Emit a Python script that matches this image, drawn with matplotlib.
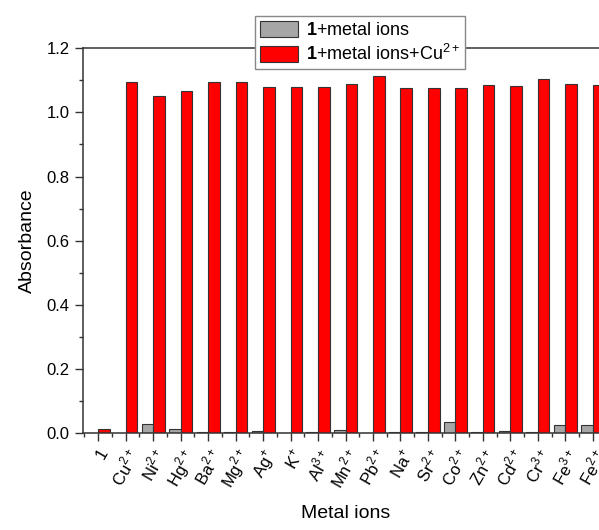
import numpy as np
import matplotlib
matplotlib.use('Agg')
import matplotlib.pyplot as plt
from matplotlib.ticker import MultipleLocator

plt.rcParams['font.family'] = 'Liberation Sans'
plt.rcParams['mathtext.fontset'] = 'custom'
plt.rcParams['mathtext.rm'] = 'Liberation Sans'
plt.rcParams['mathtext.bf'] = 'Liberation Sans:bold'

# metal ions
ions = ['1', r'Cu$^{2+}$', r'Ni$^{2+}$', r'Hg$^{2+}$', r'Ba$^{2+}$', r'Mg$^{2+}$', r'Ag$^{+}$',
        r'K$^{+}$', r'Al$^{3+}$', r'Mn$^{2+}$', r'Pb$^{2+}$', r'Na$^{+}$', r'Sr$^{2+}$',
        r'Co$^{2+}$', r'Zn$^{2+}$', r'Cd$^{2+}$', r'Cr$^{3+}$', r'Fe$^{3+}$', r'Fe$^{2+}$']
# 1 + metal ions
gray_vals = [0.0, 0.0, 0.029, 0.012, 0.005, 0.003, 0.006, 0.002, 0.004, 0.010,
             0.002, 0.005, 0.004, 0.036, 0.003, 0.008, 0.004, 0.026, 0.026]
# 1 + metal ions + Cu2+
red_vals = [0.012, 1.095, 1.052, 1.068, 1.095, 1.095, 1.080, 1.079, 1.079, 1.089,
            1.115, 1.077, 1.075, 1.075, 1.084, 1.083, 1.104, 1.088, 1.086]

x = np.arange(len(ions))
w = 0.42

fig = plt.figure(figsize=(5.99, 5.30), dpi=100)
ax = fig.add_axes([0.1386, 0.1825, 1.0150 - 0.1386, 0.909 - 0.1825])

ax.bar(x - w / 2, gray_vals, w, color='#a6a6a6', edgecolor='#333333', linewidth=0.8,
       label=r'$\mathbf{1}$+metal ions')
ax.bar(x + w / 2, red_vals, w, color='#ff0000', edgecolor='#333333', linewidth=0.8,
       label=r'$\mathbf{1}$+metal ions+Cu$^{2+}$')

ax.set_xlim(-0.55, 18.55)
ax.set_ylim(0, 1.2)
ax.set_xticks(x)
ax.set_xticklabels(ions, rotation=60, ha='right', rotation_mode='anchor', fontsize=11)
ax.xaxis.set_minor_locator(MultipleLocator(1, offset=0.5))
ax.yaxis.set_major_locator(MultipleLocator(0.2))
ax.yaxis.set_minor_locator(MultipleLocator(0.1))
ax.tick_params(axis='both', which='major', direction='out', length=6, width=1, color='#333333', labelsize=12)
ax.tick_params(axis='both', which='minor', direction='out', length=3, width=1, color='#333333')
ax.tick_params(axis='x', which='major', pad=3)
ax.yaxis.set_major_formatter(plt.FormatStrFormatter('%.1f'))

for s in ['left', 'bottom', 'top']:
    ax.spines[s].set_linewidth(1.1)
    ax.spines[s].set_color('#333333')
ax.spines['right'].set_visible(False)

ax.set_ylabel('Absorbance', fontsize=14, labelpad=8)
ax.set_xlabel('Metal ions', fontsize=14, labelpad=9)

leg = ax.legend(loc='upper left', bbox_to_anchor=(255 / 599, 1 - 16 / 530),
                bbox_transform=fig.transFigure, fontsize=13, fancybox=False,
                edgecolor='#888888', framealpha=1, handlelength=2.1, handleheight=0.95,
                borderpad=0.3, labelspacing=0.25, handletextpad=0.4, borderaxespad=0)
leg.set_zorder(5)

fig.savefig('out.png', dpi=100)
